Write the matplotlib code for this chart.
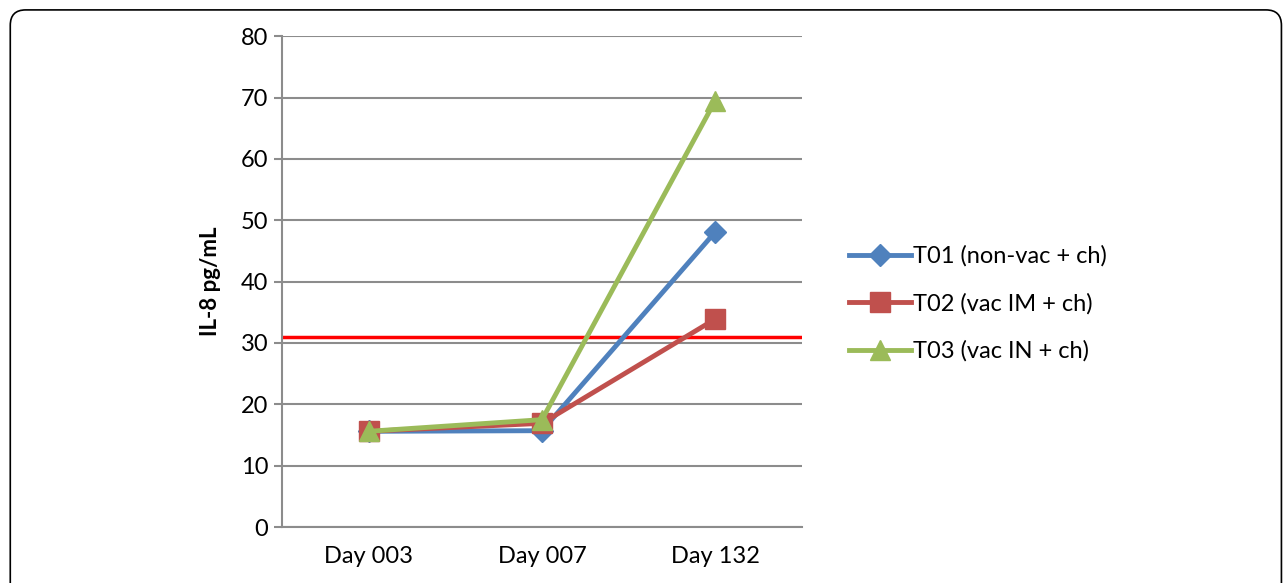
import matplotlib.pyplot as plt
from matplotlib.patches import FancyBboxPatch

plt.rcParams['font.family'] = ['Lato', 'DejaVu Sans']

days = ['Day 003', 'Day 007', 'Day 132']
t01 = [15.6, 15.7, 48.1]
t02 = [15.6, 16.9, 33.9]
t03 = [15.6, 17.5, 69.5]
threshold = 31.0
labels = ['T01 (non-vac + ch)', 'T02 (vac IM + ch)', 'T03 (vac IN + ch)']

fig = plt.figure(figsize=(12.84, 5.83), dpi=100)
fig.patches.append(FancyBboxPatch((0.008, -0.1), 0.99, 1.083, boxstyle='round,pad=0,rounding_size=0.012',
                                  transform=fig.transFigure, fill=False, ec='black', lw=1.2,
                                  mutation_aspect=1284 / 583))
ax = fig.add_axes([0.2196, 0.096, 0.405, 0.842])

x = [i + 0.5 for i in range(len(days))]
ax.axhline(threshold, color='#FF0000', lw=2.5, zorder=2)
ax.plot(x, t01, color='#4F81BD', lw=3.5, marker='D', ms=11, label=labels[0], zorder=3)
ax.plot(x, t02, color='#C0504D', lw=3.5, marker='s', ms=14, label=labels[1], zorder=3)
ax.plot(x, t03, color='#9BBB59', lw=3.5, marker='^', ms=15, label=labels[2], zorder=4)

ax.set_xlim(0, 3)
ax.set_ylim(0, 80)
ax.set_xticks(x)
ax.set_xticklabels(days)
ax.set_yticks(range(0, 81, 10))
ax.yaxis.grid(True, color='#8C8C8C', lw=1.5)
ax.set_axisbelow(True)
for s in ['top', 'right']:
    ax.spines[s].set_visible(False)
for s in ['left', 'bottom']:
    ax.spines[s].set_color('#8C8C8C')
    ax.spines[s].set_linewidth(1.5)
ax.tick_params(axis='y', length=6, color='#8C8C8C', width=1.5, labelsize=17, pad=4)
ax.tick_params(axis='x', length=0, labelsize=17, pad=14)
ax.set_ylabel('IL-8 pg/mL', fontsize=16, fontweight='bold', labelpad=14)

ax.legend(loc='center left', bbox_to_anchor=(1.05, 0.455), frameon=False, fontsize=17,
          handlelength=2.6, labelspacing=1.1, handletextpad=0.1)

fig.savefig('out.png', dpi=100)
